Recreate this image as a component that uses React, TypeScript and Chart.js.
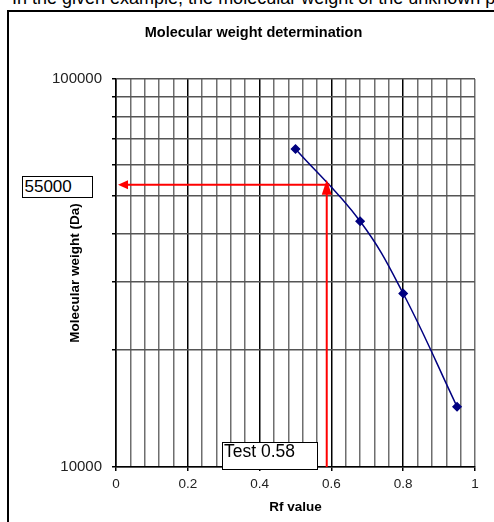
import React, { useEffect, useRef } from "react";
import { Chart, registerables } from "chart.js";

Chart.register(...registerables);

// ---- data ----
const rfValues = [0.5, 0.68, 0.8, 0.95];
const mwValues = [66000, 43000, 28000, 14300];
const yMin = 10000;
const yMax = 100000;
const yGridValues = [10000, 20000, 30000, 40000, 50000, 60000, 70000, 80000, 90000, 100000];
const yLabelValues = [10000, 100000];
const xMin = 0;
const xMax = 1;
const xMinorStep = 0.04;
const xMajorStep = 0.2;
const testRf = 0.587;
const testMw = 53400;
const testLabel = "Test 0.58";
const resultLabel = "55000";
const chartTitle = "Molecular weight determination";
const xTitle = "Rf value";
const yTitle = "Molecular weight (Da)";
const introText =
  "In the given example, the molecular weight of the unknown protein is";

const FONT = "'Liberation Sans', Arial, sans-serif";

const isMajorX = (v: number) =>
  Math.abs(v / xMajorStep - Math.round(v / xMajorStep)) < 1e-6;

const arrowPlugin = {
  id: "testArrows",
  afterDatasetsDraw(chart: any) {
    const { ctx, scales } = chart;
    const x = scales.x;
    const y = scales.y;
    const px = x.getPixelForValue(testRf);
    const py = y.getPixelForValue(testMw);
    const x0 = x.getPixelForValue(xMin);
    const yb = y.getPixelForValue(yMin);
    ctx.save();
    ctx.strokeStyle = "#ff0000";
    ctx.fillStyle = "#ff0000";
    ctx.lineWidth = 2;
    ctx.beginPath();
    ctx.moveTo(px, yb);
    ctx.lineTo(px, py + 8);
    ctx.stroke();
    ctx.beginPath();
    ctx.moveTo(px, py - 5);
    ctx.lineTo(px - 5, py + 10);
    ctx.lineTo(px + 5, py + 10);
    ctx.closePath();
    ctx.fill();
    ctx.beginPath();
    ctx.moveTo(px + 3, py);
    ctx.lineTo(x0 + 10, py);
    ctx.stroke();
    ctx.beginPath();
    ctx.moveTo(x0 + 2, py);
    ctx.lineTo(x0 + 12, py - 4.5);
    ctx.lineTo(x0 + 12, py + 4.5);
    ctx.closePath();
    ctx.fill();
    ctx.restore();
  },
};

export default function App() {
  const canvasRef = useRef<HTMLCanvasElement | null>(null);

  useEffect(() => {
    if (!canvasRef.current) return;
    const chart = new Chart(canvasRef.current, {
      type: "line",
      data: {
        datasets: [
          {
            data: rfValues.map((x, i) => ({ x, y: mwValues[i] })),
            borderColor: "#000080",
            backgroundColor: "#000080",
            borderWidth: 1.5,
            pointStyle: "rectRot",
            pointRadius: 4,
            pointBackgroundColor: "#000080",
            pointBorderColor: "#000080",
            tension: 0.4,
            fill: false,
          },
        ],
      },
      options: {
        responsive: false,
        animation: false,
        events: [],
        layout: { padding: { left: 32, right: 19, top: 10, bottom: 0 } },
        plugins: {
          legend: { display: false },
          tooltip: { enabled: false },
          title: {
            display: true,
            text: chartTitle,
            color: "#000",
            font: { family: FONT, size: 14.5, weight: "bold", lineHeight: 1.2 },
            padding: { top: 14.3, bottom: 37.3 },
          },
        },
        scales: {
          x: {
            type: "linear",
            min: xMin,
            max: xMax,
            afterFit: (s: any) => {
              s.height = 55;
            },
            ticks: {
              stepSize: xMinorStep,
              autoSkip: false,
              maxRotation: 0,
              padding: 5.5,
              color: "#222",
              font: { family: FONT, size: 13.5 },
              callback: (v: any) =>
                isMajorX(Number(v))
                  ? String(Math.round(Number(v) / xMajorStep) * 2 / 10)
                  : "",
            },
            grid: {
              color: (c: any) =>
                c.tick && isMajorX(c.tick.value) && c.tick.value < xMax - 1e-6
                  ? "#000"
                  : "#6e6e6e",
              lineWidth: 1.5,
              tickLength: 4,
              tickColor: (c: any) =>
                c.tick && isMajorX(c.tick.value) ? "#000" : "rgba(0,0,0,0)",
            },
            border: { color: "#000", width: 1.5 },
            title: {
              display: true,
              text: xTitle,
              color: "#000",
              font: { family: FONT, size: 13.5, weight: "bold", lineHeight: 1.2 },
              padding: { top: 0, bottom: 6.4 },
            },
          },
          y: {
            type: "logarithmic",
            min: yMin,
            max: yMax,
            afterBuildTicks: (s: any) => {
              s.ticks = yGridValues.map((value) => ({ value }));
            },
            afterFit: (s: any) => {
              s.width = 84;
            },
            ticks: {
              autoSkip: false,
              padding: 10,
              color: "#222",
              font: { family: FONT, size: 15 },
              callback: (v: any) =>
                yLabelValues.includes(Number(v)) ? String(v) : "",
            },
            grid: {
              color: "#555",
              lineWidth: 1.5,
              tickLength: 4,
              tickColor: "#000",
            },
            border: { color: "#000", width: 1.5 },
            title: {
              display: true,
              text: yTitle,
              color: "#000",
              font: { family: FONT, size: 13.5, weight: "bold", lineHeight: 1.2 },
              padding: { top: 34.9, bottom: 0 },
            },
          },
        },
      },
      plugins: [arrowPlugin],
    } as any);
    return () => chart.destroy();
  }, []);

  return (
    <div
      style={{
        position: "absolute",
        left: 0,
        top: 0,
        width: 494,
        height: 522,
        overflow: "hidden",
        background: "#fff",
        fontFamily: FONT,
      }}
    >
      <div
        style={{
          position: "absolute",
          left: 12,
          top: -11,
          fontSize: 18,
          lineHeight: "18px",
          whiteSpace: "nowrap",
          color: "#000",
        }}
      >
        {introText}
      </div>
      <div
        style={{
          position: "absolute",
          left: 7,
          top: 10,
          width: 700,
          height: 700,
          borderLeft: "2px solid #000",
          borderTop: "2px solid #000",
        }}
      />
      <canvas
        ref={canvasRef}
        width={494}
        height={522}
        style={{ position: "absolute", left: 0, top: 0 }}
      />
      <div
        style={{
          position: "absolute",
          left: 22,
          top: 176,
          width: 71,
          height: 22,
          boxSizing: "border-box",
          border: "1.5px solid #000",
          background: "#fff",
          fontSize: 17,
          lineHeight: "19px",
          paddingLeft: 1.5,
          color: "#000",
          whiteSpace: "nowrap",
        }}
      >
        {resultLabel}
      </div>
      <div
        style={{
          position: "absolute",
          left: 222,
          top: 441.5,
          width: 96,
          height: 28,
          boxSizing: "border-box",
          border: "1.5px solid #000",
          background: "#fff",
          fontSize: 17.5,
          lineHeight: "17px",
          paddingLeft: 1,
          color: "#000",
          whiteSpace: "nowrap",
        }}
      >
        {testLabel}
      </div>
    </div>
  );
}
